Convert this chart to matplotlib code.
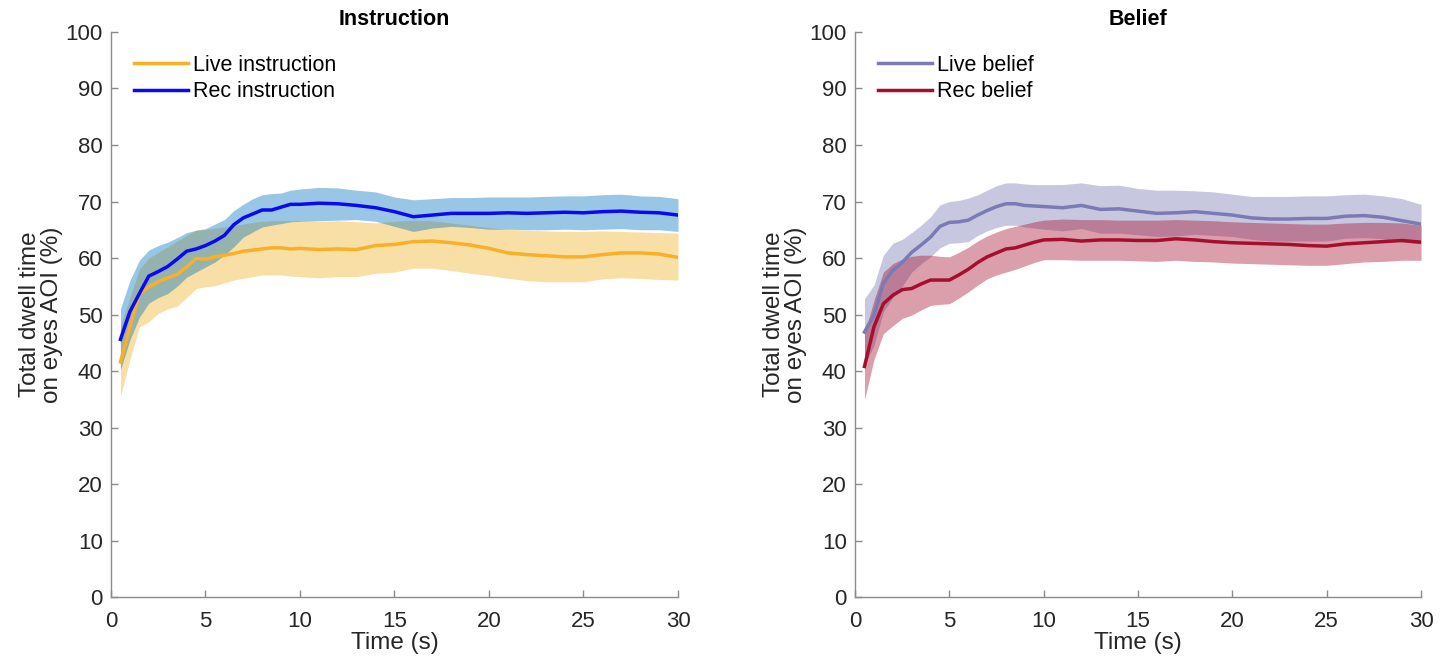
import matplotlib
matplotlib.use("Agg")
import matplotlib.pyplot as plt
import numpy as np

plt.rcParams['font.family'] = ['Liberation Sans', 'DejaVu Sans']

time_s = [0.5, 1.0, 1.5, 2.0, 2.5, 3.0, 3.5, 4.0, 4.5, 5.0, 5.5, 6.0, 6.5, 7.0, 7.5, 8.0, 8.5, 9.0, 9.5, 10.0,
          11, 12, 13, 14, 15, 16, 17, 18, 19, 20, 21, 22, 23, 24, 25, 26, 27, 28, 29, 30]

# Instruction panel
live_instr_mean = [41.6, 47.8, 53.6, 54.9, 55.8, 56.5, 57.1, 58.4, 59.9, 59.8, 60.2, 60.5, 60.8, 61.2, 61.4, 61.6, 61.8, 61.8, 61.6, 61.7,
                   61.5, 61.6, 61.5, 62.2, 62.4, 62.9, 63.0, 62.7, 62.3, 61.7, 60.9, 60.6, 60.4, 60.2, 60.2, 60.6, 60.9, 60.9, 60.7, 60.1]
live_instr_upper = [48.0, 53.0, 58.0, 60.0, 61.0, 62.0, 63.0, 64.0, 65.0, 65.0, 65.3, 65.5, 65.8, 66.0, 66.3, 66.5, 66.6, 66.6, 66.6, 66.6,
                    66.5, 66.6, 66.4, 66.2, 66.5, 66.7, 66.6, 66.2, 65.8, 65.4, 65.1, 64.9, 64.8, 64.7, 64.7, 64.8, 64.7, 64.6, 64.5, 64.4]
live_instr_lower = [35.5, 42.0, 47.8, 48.7, 50.2, 51.0, 51.5, 53.0, 54.6, 54.9, 55.1, 55.6, 56.1, 56.4, 56.7, 57.0, 57.0, 57.0, 56.8, 56.7,
                    56.5, 56.7, 56.7, 57.3, 57.5, 58.2, 58.2, 57.8, 57.3, 56.9, 56.4, 56.0, 55.8, 55.8, 55.8, 56.3, 56.5, 56.4, 56.2, 56.1]

rec_instr_mean = [45.6, 50.5, 53.7, 56.8, 57.6, 58.5, 59.8, 61.2, 61.6, 62.2, 63.0, 64.0, 65.9, 67.1, 67.8, 68.5, 68.5, 69.0, 69.5, 69.5,
                  69.7, 69.6, 69.3, 68.9, 68.2, 67.3, 67.6, 67.9, 67.9, 67.9, 68.0, 67.9, 68.0, 68.1, 68.0, 68.2, 68.3, 68.1, 68.0, 67.6]
rec_instr_upper = [51.0, 56.0, 59.6, 61.4, 62.2, 62.8, 63.6, 64.5, 64.9, 65.2, 66.0, 66.8, 68.4, 69.5, 70.5, 71.2, 71.4, 71.5, 72.0, 72.2,
                   72.5, 72.4, 72.0, 71.7, 70.8, 70.3, 70.5, 70.7, 70.7, 70.8, 70.8, 70.8, 70.9, 71.0, 71.0, 71.2, 71.3, 71.0, 70.9, 70.5]
rec_instr_lower = [40.2, 45.5, 49.5, 52.0, 53.0, 53.7, 55.0, 56.6, 57.5, 58.4, 59.3, 60.5, 62.0, 63.7, 64.6, 65.5, 65.8, 66.1, 66.4, 66.5,
                   66.6, 66.7, 66.8, 66.5, 65.6, 64.7, 65.3, 65.6, 65.4, 65.1, 65.1, 65.0, 65.0, 65.1, 65.0, 65.1, 65.2, 65.0, 65.0, 64.7]

# Belief panel
live_bel_mean = [46.9, 49.9, 55.5, 57.8, 59.2, 61.0, 62.3, 63.7, 65.6, 66.3, 66.4, 66.7, 67.6, 68.4, 69.1, 69.6, 69.6, 69.3, 69.2, 69.1,
                 68.9, 69.3, 68.6, 68.7, 68.3, 67.9, 68.0, 68.2, 67.9, 67.6, 67.1, 66.9, 66.9, 67.0, 67.0, 67.4, 67.5, 67.2, 66.6, 66.0]
live_bel_upper = [52.8, 55.2, 60.5, 62.6, 63.3, 64.5, 65.8, 67.3, 69.4, 70.0, 70.2, 70.6, 71.2, 72.0, 72.8, 73.3, 73.3, 73.1, 73.0, 73.0,
                  73.0, 73.3, 72.8, 72.9, 72.3, 72.0, 72.0, 71.9, 71.7, 71.3, 70.9, 70.9, 70.9, 71.0, 71.0, 71.2, 71.3, 71.0, 70.5, 69.5]
live_bel_lower = [41.0, 44.5, 50.5, 53.0, 55.0, 57.5, 59.0, 60.2, 61.8, 62.6, 62.7, 62.9, 64.0, 64.8, 65.4, 65.8, 65.8, 65.5, 65.3, 65.1,
                  64.8, 65.2, 64.4, 64.4, 64.1, 63.8, 63.9, 64.2, 64.0, 63.8, 63.3, 63.0, 63.0, 63.0, 63.0, 63.5, 63.6, 63.4, 62.8, 62.5]

rec_bel_mean = [40.8, 47.8, 51.9, 53.4, 54.4, 54.6, 55.4, 56.1, 56.1, 56.1, 57.0, 58.0, 59.2, 60.2, 60.9, 61.6, 61.8, 62.3, 62.8, 63.2,
                63.3, 63.0, 63.2, 63.2, 63.1, 63.1, 63.4, 63.2, 62.9, 62.7, 62.6, 62.5, 62.4, 62.2, 62.1, 62.5, 62.7, 62.9, 63.1, 62.8]
rec_bel_upper = [46.6, 52.5, 57.5, 59.0, 59.8, 60.3, 60.5, 60.5, 60.3, 60.2, 61.0, 61.9, 63.0, 63.9, 64.6, 65.2, 65.6, 66.0, 66.4, 66.7,
                 66.9, 66.8, 66.8, 66.7, 66.7, 66.7, 66.8, 66.7, 66.6, 66.4, 66.3, 66.2, 66.1, 66.0, 66.0, 66.2, 66.3, 66.3, 66.2, 65.8]
rec_bel_lower = [34.9, 42.0, 46.6, 48.0, 49.3, 49.9, 50.8, 51.6, 51.8, 51.9, 52.9, 54.0, 55.2, 56.3, 57.0, 57.5, 58.0, 58.6, 59.2, 59.7,
                 59.7, 59.6, 59.6, 59.6, 59.5, 59.4, 59.6, 59.4, 59.3, 59.1, 59.0, 58.9, 58.8, 58.7, 58.7, 59.0, 59.3, 59.4, 59.6, 59.6]

x_ticks = [0, 5, 10, 15, 20, 25, 30]
y_ticks = [0, 10, 20, 30, 40, 50, 60, 70, 80, 90, 100]

fig = plt.figure(figsize=(14.49, 6.57), dpi=100)
ax1 = fig.add_axes([0.0766, 0.0913, 0.3913, 0.86])
ax2 = fig.add_axes([0.5901, 0.0913, 0.3906, 0.86])

panels = [
    (ax1, "Instruction",
     [("Live instruction", live_instr_mean, live_instr_upper, live_instr_lower, '#F9B026', '#EDB120'),
      ("Rec instruction", rec_instr_mean, rec_instr_upper, rec_instr_lower, '#0A0AF0', '#0072BD')]),
    (ax2, "Belief",
     [("Live belief", live_bel_mean, live_bel_upper, live_bel_lower, '#7A7AB4', '#7575B3'),
      ("Rec belief", rec_bel_mean, rec_bel_upper, rec_bel_lower, '#A50F2D', '#A50F2D')]),
]

axis_gray = '#8a8a8a'
text_col = '#262626'

for ax, title, series in panels:
    handles = []
    for label, m, up, lo, lc, fc in series:
        ax.fill_between(time_s, lo, up, color=fc, alpha=0.4, linewidth=0)
        h, = ax.plot(time_s, m, color=lc, lw=2.5, label=label, solid_joinstyle='round')
        handles.append(h)
    ax.set_xlim(0, 30)
    ax.set_ylim(0, 100)
    ax.set_xticks(x_ticks)
    ax.set_yticks(y_ticks)
    for side in ['top', 'right']:
        ax.spines[side].set_visible(False)
    for side in ['left', 'bottom']:
        ax.spines[side].set_color(axis_gray)
        ax.spines[side].set_linewidth(1.0)
    ax.tick_params(axis='y', direction='in', length=5, width=1.0, color=axis_gray,
                   labelsize=16, labelcolor=text_col, pad=6)
    ax.tick_params(axis='x', direction='in', length=5, width=1.0, color=axis_gray,
                   labelsize=16, labelcolor=text_col, pad=10)
    ax.set_xlabel("Time (s)", fontsize=17.5, color=text_col, labelpad=0)
    ax.set_ylabel("Total dwell time\non eyes AOI (%)", fontsize=17.5, color=text_col,
                  labelpad=2, linespacing=0.98)
    ax.set_title(title, fontsize=15.5, fontweight='bold', color='black', pad=5)
    ax.legend(handles=handles, loc='upper left', bbox_to_anchor=(0.025, 0.975), frameon=False,
              fontsize=15.5, handlelength=2.5, handletextpad=0.25, labelspacing=0.25,
              borderaxespad=0.0)

fig.savefig("out.png", dpi=100)
